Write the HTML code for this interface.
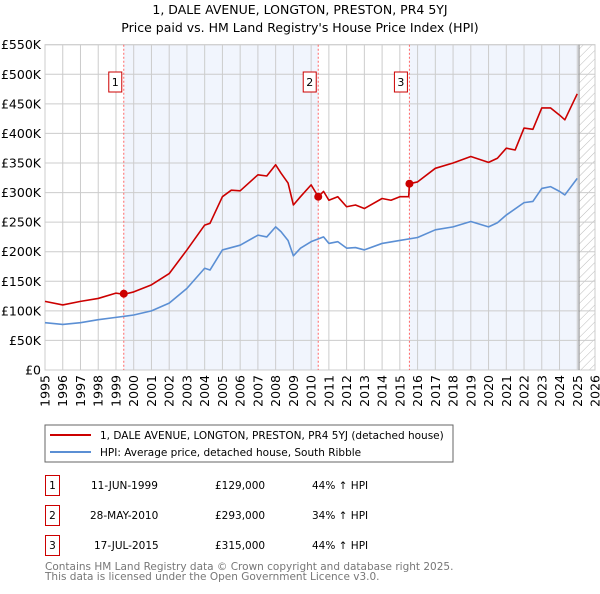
<!DOCTYPE html>
<html><head><meta charset="utf-8"><style>
body{margin:0;background:#fff;font-family:"DejaVu Sans","Liberation Sans",sans-serif;}
svg text{font-family:"DejaVu Sans","Liberation Sans",sans-serif;}
</style></head><body>
<svg id="c" width="600" height="590" xmlns="http://www.w3.org/2000/svg">
<defs><pattern id="hatch" width="6" height="6" patternUnits="userSpaceOnUse" patternTransform="rotate(45)"><line x1="0" y1="0" x2="0" y2="6" stroke="#bbb" stroke-width="1"/></pattern></defs>
<text x="300" y="14" text-anchor="middle" font-size="12.5">1, DALE AVENUE, LONGTON, PRESTON, PR4 5YJ</text>
<text x="300" y="32" text-anchor="middle" font-size="12.5">Price paid vs. HM Land Registry's House Price Index (HPI)</text>
<g id="plot"></g>
<g>
<rect x="45" y="425" width="408" height="37" fill="#fff" stroke="#666"/>
<line x1="50" y1="435" x2="91" y2="435" stroke="#cc0000" stroke-width="2"/>
<text x="100" y="439" font-size="10.5">1, DALE AVENUE, LONGTON, PRESTON, PR4 5YJ (detached house)</text>
<line x1="50" y1="452" x2="91" y2="452" stroke="#5b8fd4" stroke-width="2"/>
<text x="100" y="456" font-size="10.5">HPI: Average price, detached house, South Ribble</text>
</g>
<g font-size="10.5">
<rect x="45.5" y="475.5" width="14" height="20" fill="none" stroke="#cc0000"/><text x="52.5" y="489" text-anchor="middle">1</text>
<text x="91" y="489">11-JUN-1999</text><text x="215" y="489">£129,000</text><text x="312" y="489">44% ↑ HPI</text>
<rect x="45.5" y="505.5" width="14" height="20" fill="none" stroke="#cc0000"/><text x="52.5" y="519" text-anchor="middle">2</text>
<text x="90" y="519">28-MAY-2010</text><text x="215" y="519">£293,000</text><text x="312" y="519">34% ↑ HPI</text>
<rect x="45.5" y="535.5" width="14" height="20" fill="none" stroke="#cc0000"/><text x="52.5" y="549" text-anchor="middle">3</text>
<text x="94" y="549">17-JUL-2015</text><text x="215" y="549">£315,000</text><text x="312" y="549">44% ↑ HPI</text>
</g>
<text x="45" y="570" font-size="10.5" fill="#777">Contains HM Land Registry data © Crown copyright and database right 2025.</text>
<text x="45" y="580" font-size="10.5" fill="#777">This data is licensed under the Open Government Licence v3.0.</text>
</svg>
<script>
const hpiYears=[1995,1996,1997,1998,1999,2000,2001,2002,2003,2004,2004.3,2005,2006,2007,2007.5,2008,2008.3,2008.7,2009,2009.4,2010,2010.7,2011,2011.5,2012,2012.5,2013,2014,2015,2016,2017,2018,2019,2020,2020.5,2021,2022,2022.5,2023,2023.5,2024,2024.3,2025];
const hpiValues=[80,77,80,85,89,93,100,113,138,172,169,203,211,228,225,242,234,219,193,206,217,225,214,217,206,207,203,214,219,224,237,242,251,242,249,262,283,285,307,310,302,296,324];
const priceYears=[1995,1996,1997,1998,1999,1999.44,2000,2001,2002,2003,2004,2004.3,2005,2005.5,2006,2007,2007.5,2008,2008.3,2008.7,2009,2009.4,2010,2010.4,2010.7,2011,2011.5,2012,2012.5,2013,2014,2014.5,2015,2015.5,2015.54,2016,2017,2018,2019,2020,2020.5,2021,2021.5,2022,2022.5,2023,2023.5,2024,2024.3,2025];
const priceValues=[116,110,116,121,130,128,132,144,163,203,245,248,293,304,303,330,328,347,333,316,279,293,313,293,302,287,293,276,279,273,290,287,293,293,315,318,341,350,361,351,358,375,372,409,407,443,443,431,423,467];
const saleLabels=["1","2","3"];
const saleYears=[1999.44,2010.4,2015.54];
const saleValues=[129,293,315];
const yTicks=[0,50,100,150,200,250,300,350,400,450,500,550];
const yTickLabels=["£0","£50K","£100K","£150K","£200K","£250K","£300K","£350K","£400K","£450K","£500K","£550K"];
const xTicks=[1995,1996,1997,1998,1999,2000,2001,2002,2003,2004,2005,2006,2007,2008,2009,2010,2011,2012,2013,2014,2015,2016,2017,2018,2019,2020,2021,2022,2023,2024,2025,2026];
const dataEnd=2025.1;

const L=45,R=595,T=44.7,B=370,X0=1995,X1=2026,YMAX=550;
const x=v=>L+(v-X0)/(X1-X0)*(R-L);
const y=v=>B-v/YMAX*(B-T);
const NS="http://www.w3.org/2000/svg";
const g=document.getElementById('plot');
function mk(tag,attrs,parent){const e=document.createElementNS(NS,tag);for(const k in attrs)e.setAttribute(k,attrs[k]);(parent||g).appendChild(e);return e;}

let r=mk('rect',{x:x(saleYears[0]),y:T,width:x(saleYears[1])-x(saleYears[0]),height:B-T,fill:'#eef3fc',opacity:0.8});


r=mk('rect',{x:x(saleYears[2]),y:T,width:x(dataEnd)-x(saleYears[2]),height:B-T,fill:'#eef3fc',opacity:0.8});


r=mk('rect',{x:x(dataEnd),y:T,width:R-x(dataEnd),height:B-T,fill:'url(#hatch)'});



yTicks.forEach((v,i)=>{
  const l=mk('line',{x1:L,x2:R,y1:y(v),y2:y(v),stroke:'#cccccc','stroke-width':1});
  
  
  const t=mk('text',{x:L-4,y:y(v)+4.5,'text-anchor':'end','font-size':12.5});
  t.textContent=yTickLabels[i];
  
  
});
xTicks.forEach(v=>{
  const l=mk('line',{x1:x(v),x2:x(v),y1:T,y2:B,stroke:'#cccccc','stroke-width':1});
  
  
  const t=mk('text',{x:0,y:0,'font-size':12.5,'text-anchor':'end',transform:`translate(${x(v)+4.5},${B+5}) rotate(-90)`});
  t.textContent=v;
  
  
});
const fr=mk('rect',{x:L,y:T,width:R-L,height:B-T,fill:'none',stroke:'#cccccc'});


const de=mk('line',{x1:x(dataEnd),x2:x(dataEnd),y1:T,y2:B,stroke:'#999','stroke-width':1.2});



saleYears.forEach((v,i)=>{
  const l=mk('line',{x1:x(v),x2:x(v),y1:T,y2:B,stroke:'#ff6666','stroke-width':1,'stroke-dasharray':'2,2'});
  
  
  const b=mk('rect',{x:x(v)-15,y:72,width:13,height:20,fill:'#fff',stroke:'#cc0000'});
  
  
  const t=mk('text',{x:x(v)-8.5,y:86,'text-anchor':'middle','font-size':11});
  t.textContent=saleLabels[i];
  
  
});

function line(xs,vs,color,name){
  const p=mk('polyline',{points:xs.map((v,i)=>x(v)+','+y(vs[i])).join(' '),fill:'none',stroke:color,'stroke-width':1.6,'stroke-linejoin':'round'});
  
  
}
line(hpiYears,hpiValues,'#5b8fd4','hpi-line');
line(priceYears,priceValues,'#cc0000','price-line');
saleYears.forEach((v,i)=>{
  const c=mk('circle',{cx:x(v),cy:y(saleValues[i]),r:4,fill:'#cc0000'});
  
  
});
</script>
</body></html>
